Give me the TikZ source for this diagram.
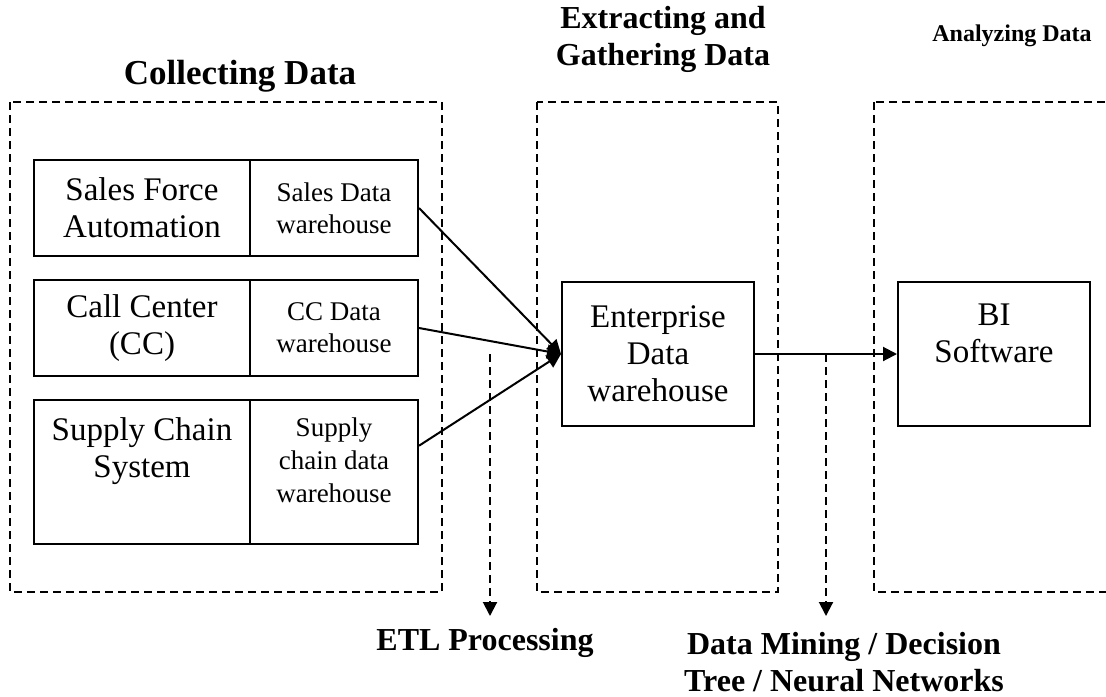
\documentclass[tikz,border=0pt]{standalone}
\usepackage{fontspec}
\setmainfont{Liberation Serif}
\usetikzlibrary{calc,arrows.meta}

\begin{document}
\begin{tikzpicture}[x=0.5pt, y=-0.5pt, line width=1pt, >={Triangle[length=7pt,width=7pt]}]
        \tikzset{
          grp/.style={dash pattern=on 4pt off 2.5pt},
          src/.style={draw, rectangle, inner sep=0pt, minimum width=108pt, minimum height=48pt, align=center, font=\fontsize{16.5}{18.5}\selectfont},
          dwh/.style={draw, rectangle, inner sep=0pt, minimum width=84pt, minimum height=48pt, align=center, font=\fontsize{13.5}{16}\selectfont},
          big/.style={draw, rectangle, inner sep=0pt, minimum width=96pt, minimum height=72pt, align=center, font=\fontsize{16.5}{18.5}\selectfont},
          hd/.style ={align=center, font=\fontsize{16}{18.5}\selectfont\bfseries}
        }
        \useasboundingbox (0,0) rectangle (1106,696);
        %% --- Gruppen ---
        \draw[grp] (10,102) rectangle (442,592);
        \draw[grp] (537,102) rectangle (778,592);
        \draw[grp] (874,102) rectangle (1130,592);
        \node[hd, font=\fontsize{17.5}{20}\selectfont\bfseries] (tcol) at (240,76) {Collecting Data};
        \node[hd] (text) at (663,39) {Extracting and\\Gathering Data};
        \node[hd, font=\fontsize{12}{14.5}\selectfont\bfseries] (tana) at (1012,36) {Analyzing Data};
        %% --- Quellen ---
        \node[src] (sfa)  at (142,208) {Sales Force\\Automation};
        \node[dwh] (sdw)  at (334,208) {Sales Data\\warehouse};
        \node[src] (cc)   at (142,328) {Call Center\\(CC)};
        \node[dwh] (ccdw) at (334,328) {CC Data\\warehouse};
        \node[src, minimum height=72pt] (scs)  at (142,472) {};
        \node[dwh, minimum height=72pt] (scdw) at (334,472) {};
        \node[anchor=north, inner sep=0pt, align=center, font=\fontsize{16.5}{18.5}\selectfont] (scst) at ([yshift=-9pt]scs.north) {Supply Chain\\System};
        \node[anchor=north, inner sep=0pt, align=center, font=\fontsize{13.5}{16.5}\selectfont] (scdwt) at ([yshift=-9pt]scdw.north) {Supply\\chain data\\warehouse};
        %% --- Warehouse und BI ---
        \node[big] (edw) at (658,354) {Enterprise\\Data\\warehouse};
        \node[big] (bi)  at (994,354) {};
        \node[anchor=north, inner sep=0pt, align=center, font=\fontsize{16.5}{18.5}\selectfont] (bit) at ([yshift=-11pt]bi.north) {BI\\Software};
        \draw[->] (sdw.east)--(edw.west);
        \draw[->] (ccdw.east)--(edw.west);
        \draw[->] ($(scdw.north east)!0.32!(scdw.south east)$)--(edw.west);
        \draw[->] (edw.east)--(bi.west);
        %% --- Prozesse ---
        \coordinate (etl)  at ($(ccdw.east |- edw.west)!0.5!(edw.west)$);
        \coordinate (dm)   at ($(edw.east)!0.5!(bi.west)$);
        \coordinate (etle) at (490,616);
        \coordinate (dme)  at (826,616);
        \draw[grp,->] (etl)--(etle);
        \draw[grp,->] (dm)--(dme);
        \node[hd] (etll) at (485,643) {ETL Processing};
        \node[hd] (dml)  at (844,662) {Data Mining / Decision\\Tree / Neural Networks};
    \end{tikzpicture}
\end{document}
